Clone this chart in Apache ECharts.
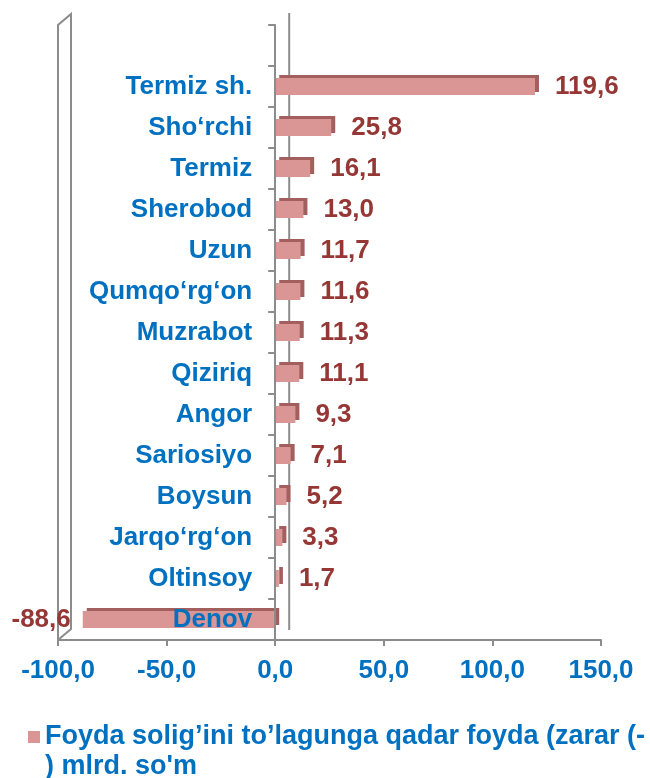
<!DOCTYPE html>
<html>
<head>
<meta charset="utf-8">
<script src="https://cdn.jsdelivr.net/npm/echarts@6/dist/echarts.min.js"></script>
<style>
  html, body { margin: 0; padding: 0; background: #fff; }
  #main { width: 650px; height: 778px; }
</style>
</head>
<body>
<div id="main"></div>
<script>
// tumanlar (yuqoridan pastga)
var categories = ["Termiz sh.", "Sho‘rchi", "Termiz", "Sherobod", "Uzun", "Qumqo‘rg‘on",
  "Muzrabot", "Qiziriq", "Angor", "Sariosiyo", "Boysun", "Jarqo‘rg‘on", "Oltinsoy", "Denov"];
var values = [119.6, 25.8, 16.1, 13.0, 11.7, 11.6, 11.3, 11.1, 9.3, 7.1, 5.2, 3.3, 1.7, -88.6];
var seriesName = "Foyda solig’ini to’lagunga qadar foyda (zarar (-) mlrd. so'm";
var xMin = -100, xMax = 150, xStep = 50;

var blue = '#0070C0';
var red = '#953735';
var gray = '#8c8c8c';
var barColor = '#D99694';

function fmt(v) {
  return Number(v).toFixed(1).replace('.', ',');
}

var chart = echarts.init(document.getElementById('main'));

var barData = values.map(function (v) {
  return {
    value: v,
    label: v < 0 ? { position: 'left', distance: 12 } : { position: 'right', distance: 20 }
  };
});

chart.setOption({
  animation: false,
  textStyle: { fontFamily: 'Liberation Sans, Arial, sans-serif' },
  grid: { left: 58, right: 49, top: 25, bottom: 138, outerBoundsMode: 'none' },
  legend: {
    left: 23,
    top: 722,
    padding: 0,
    icon: 'none',
    itemWidth: 0,
    itemGap: 0,
    formatter: function (name) {
      var cut = name.indexOf('(-') + 2;
      return '{sq|}{t|' + name.slice(0, cut) + '}\n{t2|' + name.slice(cut) + '}';
    },
    textStyle: {
      color: blue,
      fontWeight: 'bold',
      fontSize: 27,
      lineHeight: 30,
      rich: {
        sq: { width: 12, height: 12, backgroundColor: barColor, verticalAlign: 'middle' },
        t: { color: blue, fontWeight: 'bold', fontSize: 27, lineHeight: 30, padding: [0, 0, 0, 5] },
        t2: { color: blue, fontWeight: 'bold', fontSize: 27, lineHeight: 30, padding: [0, 0, 0, 17] }
      }
    }
  },
  xAxis: {
    type: 'value',
    min: xMin,
    max: xMax,
    interval: xStep,
    splitLine: { show: false },
    axisLine: { show: true, lineStyle: { color: gray, width: 2 } },
    axisTick: { show: true, length: 6, lineStyle: { color: gray, width: 2 } },
    axisLabel: {
      formatter: fmt,
      color: blue,
      fontWeight: 'bold',
      fontSize: 26,
      margin: 18
    }
  },
  yAxis: {
    type: 'category',
    data: categories,
    inverse: true,
    min: -1,
    z: 5,
    axisLine: { show: true, onZero: true, lineStyle: { color: gray, width: 2 } },
    axisTick: { show: true, length: 7, lineStyle: { color: gray, width: 2 } },
    axisLabel: {
      color: blue,
      fontWeight: 'bold',
      fontSize: 26,
      margin: 23
    }
  },
  series: [{
    name: seriesName,
    type: 'bar',
    data: barData,
    barWidth: 17,
    itemStyle: {
      color: barColor,
      shadowColor: '#A35F5D',
      shadowOffsetX: 4,
      shadowOffsetY: -3,
      shadowBlur: 0
    },
    label: {
      show: true,
      formatter: function (p) { return fmt(p.value); },
      color: red,
      fontWeight: 'bold',
      fontSize: 26
    }
  }]
});

// kategoriya yozuvlari nol o'qi yonida, 3D devor konturlari
var xl = chart.convertToPixel({ xAxisIndex: 0 }, xMin);
var x0 = chart.convertToPixel({ xAxisIndex: 0 }, 0);
chart.setOption({
  yAxis: { axisLabel: { margin: 23 - (x0 - xl) } },
  graphic: [
    {
      type: 'polyline',
      shape: { points: [[xl, 640], [xl, 25], [xl + 13, 14], [xl + 13, 629], [xl, 640]] },
      style: { stroke: gray, lineWidth: 2, fill: null },
      z: -1
    },
    {
      type: 'line',
      shape: { x1: x0 + 14, y1: 13, x2: x0 + 14, y2: 630 },
      style: { stroke: gray, lineWidth: 2 },
      z: -1
    }
  ]
});
</script>
</body>
</html>
